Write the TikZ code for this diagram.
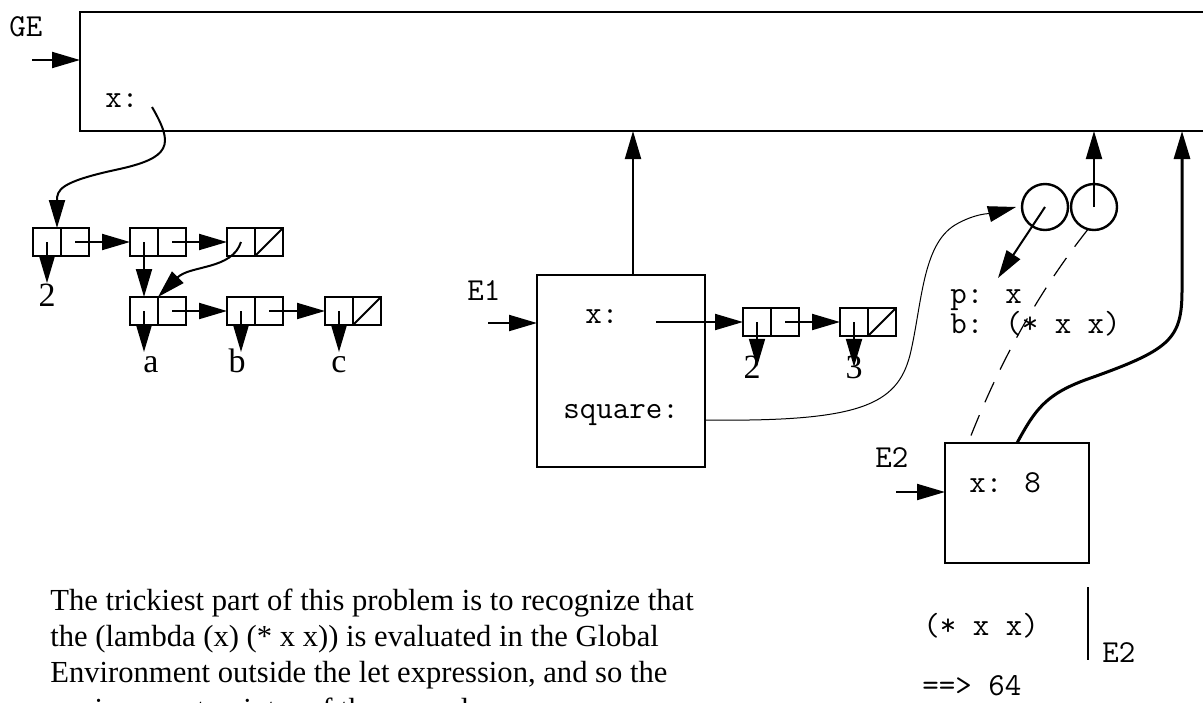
\documentclass[tikz,border=0pt]{standalone}
\usepackage{fontspec}
\setmainfont{Liberation Serif}
\usetikzlibrary{arrows.meta}
\begin{document}
\begin{tikzpicture}[x=0.5pt,y=-0.5pt,
 arr/.style={-{Triangle[length=14pt,width=8pt]},line width=1pt},
 frame/.style={draw,line width=1.2pt,inner sep=0pt,outer sep=0pt},
 half/.style={frame,minimum width=14pt,minimum height=14pt},
 mono/.style={font=\fontsize{16pt}{19pt}\selectfont\ttfamily,inner sep=0pt,anchor=base west},
 lab/.style={font=\fontsize{17pt}{20pt}\selectfont,inner sep=0pt,anchor=base},
 body/.style={font=\fontsize{15.3pt}{18pt}\selectfont,inner sep=0pt,anchor=base west},
 slash/.style={line width=1pt}]
\useasboundingbox (0,0) rectangle (1203,702);

% ---------- Global environment ----------
\node[frame,anchor=north west,minimum width=575pt,minimum height=59.5pt] (GE) at (80,12) {};
\node[mono] (GElab) at (9,36) {GE};
\coordinate (GEin) at (32,60);
\draw[arr] (GEin) -- (GEin -| GE.west);
\node[mono] (GEx) at (105,107) {x:};
\coordinate (GExp) at (152,107);

% ---------- list structure ----------
\node[half] (r1a)  at (47,242) {};
\node[half] (r1ad) at (75,242) {};
\node[half] (r1b)  at (144,242) {};
\node[half] (r1bd) at (172,242) {};
\node[half] (r1c)  at (241,242) {};
\node[half] (r1cd) at (269,242) {};
\node[half] (r2a)  at (144,311) {};
\node[half] (r2ad) at (172,311) {};
\node[half] (r2b)  at (241,311) {};
\node[half] (r2bd) at (269,311) {};
\node[half] (r2c)  at (339,311) {};
\node[half] (r2cd) at (367,311) {};
\draw[slash] (r1cd.south west) -- (r1cd.north east);
\draw[slash] (r2cd.south west) -- (r2cd.north east);

\node[lab] (l2) at (47,306) {2};
\node[lab] (la) at (151,372) {a};
\node[lab] (lb) at (237,372) {b};
\node[lab] (lc) at (339,372) {c};
\coordinate (rowtip) at (0,352);

\draw[arr] (GExp) .. controls (174,145) and (172,158) .. (115,170)
                  .. controls (60,182) and (57,190) .. ([xshift=-2pt]r1a.north east);
\draw[arr] (r1a.center) -- (r1a.center |- l2.north);
\draw[arr] (r1ad.center) -- (r1b.west);
\draw[arr] (r1bd.center) -- (r1c.west);
\draw[arr] (r1b.center) -- (r2a.north);
\draw[arr] (r1c.center) .. controls (232,270) and (190,265) .. (r2a.north east);
\draw[arr] (r2ad.center) -- (r2b.west);
\draw[arr] (r2bd.center) -- (r2c.west);
\draw[arr] (r2a.center) -- (r2a.center |- rowtip);
\draw[arr] (r2b.center) -- (r2b.center |- rowtip);
\draw[arr] (r2c.center) -- (r2c.center |- rowtip);

% ---------- E1 ----------
\node[frame,minimum width=84pt,minimum height=96pt] (E1) at (621,371) {};
\coordinate (E1up) at (633,275);
\draw[arr] (E1up) -- (E1up |- GE.south);
\node[mono] (E1lab) at (467,300) {E1};
\coordinate (E1in) at (488,323);
\draw[arr] (E1in) -- (E1in -| E1.west);
\node[mono] (E1x) at (585,323) {x:};
\node[mono] (E1sq) at (563,418) {square:};
\coordinate (E1xp) at (656,322);
\coordinate (sqp) at (705,420);

\node[half] (e1a)  at (757,322) {};
\node[half] (e1ad) at (785,322) {};
\node[half] (e1b)  at (854,322) {};
\node[half] (e1bd) at (882,322) {};
\draw[slash] (e1bd.south west) -- (e1bd.north east);
\node[lab] (l2b) at (752,378) {2};
\node[lab] (l3) at (854,378) {3};
\draw[arr] (E1xp) -- (e1a.west);
\draw[arr] (e1a.center) -- (e1a.center |- l2b.center);
\draw[arr] (e1ad.center) -- (e1b.west);
\draw[arr] (e1b.center) -- (e1b.center |- l3.center);

% ---------- procedure object ----------
\node[frame,circle,minimum size=23pt] (C1) at (1045,207) {};
\node[frame,circle,minimum size=23pt] (C2) at (1094,207) {};
\draw[arr] (C2.center) -- (C2.center |- GE.south);
\coordinate (pbtip) at (998,278);
\draw[arr] (C1.center) -- (pbtip);
\node[mono] (pline) at (950,303) {p: x};
\node[mono] (bline) at (950,333) {b: (* x x)};
\draw[line width=0.5pt,-{Triangle[length=14pt,width=8pt]}]
  (sqp) .. controls (860,422) and (897,405) .. (910,355)
        .. controls (922,305) and (922,245) .. (955,225)
        .. controls (975,213) and (993,213) .. ([xshift=-3pt]C1.west);

% ---------- E2 ----------
\node[frame,minimum width=72pt,minimum height=60pt] (E2) at (1017,503) {};
\node[mono] (E2lab) at (875,467) {E2};
\coordinate (E2in) at (896,492);
\draw[arr] (E2in) -- (E2in -| E2.west);
\node[mono] (E2x) at (969,492) {x: 8};
\coordinate (E2d) at (968,443);
\coordinate (E2t) at (1017,443);
\draw[line width=0.6pt,dash pattern=on 11pt off 7pt]
  (C2.-105) .. controls (1020,315) and (985,400) .. (E2d);
\coordinate (thk) at (1182,290);
\draw[line width=1.5pt,-{Triangle[length=14pt,width=8pt]}]
  (E2t) .. controls (1035,410) and (1045,395) .. (1085,380)
        .. controls (1170,350) and (1182,340) .. (thk)
        -- (thk |- GE.south);

% ---------- evaluation ----------
\node[mono] (expr) at (923,635) {(* x x)};
\coordinate (bartop) at (1088,587);
\coordinate (barbot) at (1088,660);
\draw[line width=1.2pt] (bartop) -- (barbot);
\node[mono] (sub) at (1102,662) {E2};
\node[mono] (res) at (922,695) {==> 64};

% ---------- text ----------
\node[body] (t1) at (50,610) {The trickiest part of this problem is to recognize that};
\node[body] (t2) at (50,646) {the (lambda (x) (* x x)) is evaluated in the Global};
\node[body] (t3) at (50,682) {Environment outside the let expression, and so the};
\node[body] (t4) at (50,719) {environment pointer of the procedure};
\end{tikzpicture}
\end{document}
